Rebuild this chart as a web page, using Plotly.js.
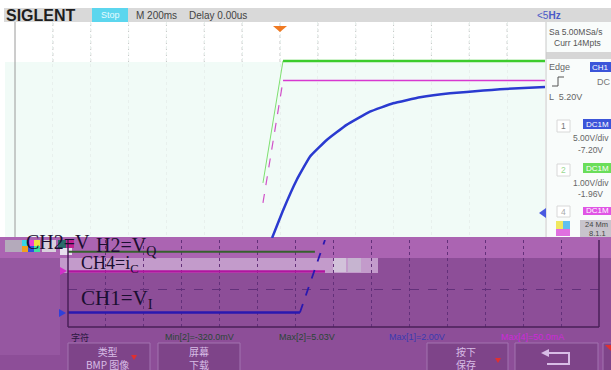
<!DOCTYPE html>
<html>
<head>
<meta charset="utf-8">
<script src="https://cdn.plot.ly/plotly-3.0.1.min.js"></script>
<style>
  html, body { margin: 0; padding: 0; background: #ffffff; }
  #scope { width: 611px; height: 370px; }
</style>
</head>
<body>
<div id="scope"></div>
<script>
// ---- Waveform data: time in ms, level in screen divisions ----
// Main display (200 ms/div, trigger at centre)
const greenRiseT = [-90, 16];
const greenRiseV = [-1.96, 2.56];
const greenFlatT = [16, 1400];
const greenFlatV = [2.56, 2.56];

const magRiseT = [-90, 16];
const magRiseV = [-2.70, 1.83];
const magFlatT = [16, 1400];
const magFlatV = [1.83, 1.83];

const blueT = [-42, 17, 88, 158, 247, 352, 475, 598, 740, 898, 1074, 1162, 1400];
const blueV = [-4.0, -2.96, -1.85, -0.99, -0.37, 0.19, 0.68, 0.99, 1.21, 1.36, 1.46, 1.51, 1.59];

// Lower capture strip
const stripGreenT = [-1400, -98];
const stripGreenV = [1.03, 1.03];
const stripMagT = [-1400, -45];
const stripMagV = [0.50, 0.50];
const stripBlueFlatT = [-1400, -177];
const stripBlueFlatV = [-0.61, -0.61];
const stripBlueRiseT = [-177, -45];
const stripBlueRiseV = [-0.61, 1.35];

// Measurement read-outs
const measLabels = ['Min[2]=-320.0mV', 'Max[2]=5.03V', 'Max[1]=2.00V', 'Max[4]=50.0mA'];
const measColors = ['#2a4636', '#2a4636', '#3a3ab0', '#cc2ad8'];
const measX = [164, 278, 388, 500];

// Soft key captions
const keyCaptions = ['类型<br>BMP 图像', '屏幕<br>下载', '按下<br>保存'];
const keyCentres = [107, 199, 466];

// ---- pixel helpers for the frame decoration ----
const W = 611, H = 370;
const px = x => x / W;
const py = y => 1 - y / H;

const shapes = [];
function rect(x0, y0, x1, y1, fill, line) {
  shapes.push({type: 'rect', xref: 'paper', yref: 'paper', layer: 'below',
    x0: px(x0), x1: px(x1), y0: py(y1), y1: py(y0), fillcolor: fill,
    line: line ? {color: line, width: 1} : {width: 0}});
}
function seg(x0, y0, x1, y1, color, width, dash) {
  shapes.push({type: 'line', xref: 'paper', yref: 'paper', layer: 'above',
    x0: px(x0), x1: px(x1), y0: py(y0), y1: py(y1),
    line: {color: color, width: width || 1, dash: dash || 'solid'}});
}
function poly(pts, fill) {
  const d = 'M' + pts.map(p => px(p[0]) + ',' + py(p[1])).join(' L') + ' Z';
  shapes.push({type: 'path', xref: 'paper', yref: 'paper', layer: 'above', path: d,
    fillcolor: fill, line: {width: 0}});
}

// header bar
rect(4, 8, 611, 22, '#d9d9d9');
rect(92, 8, 128, 22, '#5cd6ee');
// display backgrounds
rect(5, 62, 545, 237, '#f1fbf7');
rect(546, 22, 611, 237, '#f9fcfb');
rect(546, 52, 611, 59, '#d6d6d6');
seg(546, 22, 546, 237, '#c8c8c8', 1);
seg(15, 22, 15, 237, '#9a9a9a', 1);

// dotted division marks in the upper white band
for (let t = -1200; t <= 1200; t += 200) {
  shapes.push({type: 'line', xref: 'x', yref: 'paper', layer: 'below',
    x0: t, x1: t, y0: py(62), y1: py(22), line: {color: '#c6c6c6', width: 1, dash: 'dot'}});
}

// lower capture strip backgrounds
rect(0, 237, 611, 370, '#8d4e98');
rect(0, 237, 611, 258, '#ab64b2');
rect(0, 258, 60, 355, '#9657a1');
rect(60, 258, 378, 273, '#c39bcb');
rect(333, 258, 346, 272, '#d2c2da');
rect(348, 258, 361, 272, '#c6b4d0');
// colour noise at the strip's top-left
rect(5, 240, 22, 252, '#b4aabb');
rect(22, 240, 28, 246, '#36d6e8');
rect(28, 240, 34, 246, '#f040d0');
rect(34, 240, 40, 246, '#f0e040');
rect(22, 246, 28, 252, '#f0a020');
rect(28, 246, 34, 252, '#3050e0');
rect(34, 246, 40, 252, '#40e0a0');
rect(42, 240, 56, 252, '#d8d0dc');
rect(58, 240, 66, 248, '#2a6a6a');
rect(66, 240, 74, 248, '#c02090');
rect(60, 248, 72, 255, '#e8e0ee');
// right panel noise
rect(556, 221, 563, 229, '#f0e860');
rect(563, 221, 570, 229, '#60c0f0');
rect(556, 229, 570, 236, '#e070e0');
rect(580, 220, 611, 237, '#c8c4cc');

// strip frame
seg(68, 240, 68, 327, '#4a2058', 1.5);
seg(68, 327, 599, 327, '#4a2058', 1.5);
seg(599, 240, 599, 327, '#4a2058', 1.5);

// soft keys
rect(68, 343, 150, 372, '#7e4489', '#a272b0');
rect(158, 343, 240, 372, '#7e4489', '#a272b0');
rect(427, 343, 508, 372, '#7e4489', '#a272b0');
rect(515, 343, 598, 372, '#7e4489', '#a272b0');
rect(603, 343, 614, 372, '#7e4489', '#a272b0');

// trigger position marker
poly([[273, 26], [287, 26], [280, 32]], '#f07a22');
// channel markers
poly([[539, 213], [546, 208], [546, 218]], '#4a5ae0');
poly([[60, 267], [67, 271], [60, 275]], '#d030c8');
poly([[59, 309], [66, 313], [59, 317]], '#3040d8');
// return key arrow
poly([[541, 353], [549, 349], [549, 357]], '#d8bde6');
shapes.push({type: 'path', xref: 'paper', yref: 'paper', layer: 'above',
  path: 'M' + px(548) + ',' + py(353) + ' L' + px(569) + ',' + py(353) + ' L' + px(569) + ',' + py(364) + ' L' + px(547) + ',' + py(364),
  line: {color: '#d8bde6', width: 2}});
// red key indicators
poly([[131, 355], [137, 355], [134, 360]], '#e03030');
poly([[495, 358], [501, 358], [498, 363]], '#e03030');
poly([[605, 345], [611, 345], [611, 351]], '#e03030');
// trigger slope glyph
shapes.push({type: 'path', xref: 'paper', yref: 'paper', layer: 'above',
  path: 'M' + px(552) + ',' + py(86) + ' L' + px(558) + ',' + py(86) + ' L' + px(558) + ',' + py(77) + ' L' + px(564) + ',' + py(77),
  line: {color: '#555555', width: 1}});

// ---- annotations ----
const ann = [];
function txt(x, y, s, size, color, opts) {
  const o = opts || {};
  ann.push({xref: 'paper', yref: 'paper', x: px(x), y: py(y), text: s, showarrow: false,
    xanchor: o.anchor || 'left', yanchor: 'middle',
    font: {family: o.family || 'Liberation Sans, Arial, sans-serif', size: size, color: color},
    borderpad: 0});
}
txt(5, 15, '<b>SIGLENT</b>', 16, '#1e1e1e');
txt(110, 15, 'Stop', 9, '#e4fbff', {anchor: 'center'});
txt(135, 15, 'M 200ms', 10, '#444444');
txt(188, 15, 'Delay 0.00us', 10, '#444444');
txt(536, 15, '&lt;5<b>Hz</b>', 10, '#4a5ac8');

// right panel
txt(548, 32, 'Sa 5.00MSa/s', 8.5, '#555555');
txt(553, 43, 'Curr 14Mpts', 8.5, '#555555');
txt(548, 67, 'Edge', 9, '#666666');
rect(590, 62, 611, 72, '#3c55d9');
txt(600, 67, 'CH1', 8, '#ffffff', {anchor: 'center'});
txt(596, 82, 'DC', 9, '#777777');
txt(548, 97, 'L  5.20V', 9, '#666666');

rect(557, 120, 570, 132, '#ffffff', '#d8d8d8');
txt(563.5, 126, '1', 8.5, '#777777', {anchor: 'center'});
rect(583, 119, 611, 129, '#3c55d9');
txt(597, 124, 'DC1M', 8, '#ffffff', {anchor: 'center'});
txt(610, 138, '5.00V/div', 8.5, '#666666', {anchor: 'right'});
txt(604, 150, '-7.20V', 8.5, '#666666', {anchor: 'right'});

rect(557, 164, 570, 176, '#ffffff', '#d8d8d8');
txt(563.5, 170, '2', 8.5, '#9ad890', {anchor: 'center'});
rect(583, 163, 611, 173, '#6ade5a');
txt(597, 168, 'DC1M', 8, '#ffffff', {anchor: 'center'});
txt(610, 183, '1.00V/div', 8.5, '#666666', {anchor: 'right'});
txt(604, 194, '-1.96V', 8.5, '#666666', {anchor: 'right'});

rect(557, 206, 570, 217, '#ffffff', '#d8d8d8');
txt(563.5, 211.5, '4', 8.5, '#aaaaaa', {anchor: 'center'});
rect(583, 207, 611, 215, '#e055e5');
txt(597, 211, 'DC1M', 8, '#ffffff', {anchor: 'center'});
txt(584, 224, '24 Mm', 7.5, '#444444');
txt(588, 233, '8.1.1', 7.5, '#444444');

// channel captions in the capture strip
const serif = 'Liberation Serif, Times New Roman, serif';
txt(25, 242, 'CH2=V', 20, '#1a0e30', {family: serif});
txt(95, 246, 'H2=V<sub>Q</sub>', 20, '#1a0e30', {family: serif});
txt(80, 264, 'CH4=i<sub>C</sub>', 18, '#1a0e30', {family: serif});
txt(80, 299, 'CH1=V<sub>I</sub>', 21, '#1a0e30', {family: serif});

// measurement row
txt(70, 337, '字符', 9, '#2a1840', {family: 'Noto Sans CJK SC'});
measLabels.forEach((s, i) => txt(measX[i], 337, s, 9, measColors[i]));

// soft key captions (two lines each)
keyCaptions.forEach((s, i) => txt(keyCentres[i], 358, s, 10, '#d8bde6',
  {anchor: 'center', family: 'Noto Sans CJK SC'}));

// ---- traces ----
const traces = [
  {x: greenRiseT, y: greenRiseV, mode: 'lines', line: {color: '#7ee070', width: 1}},
  {x: greenFlatT, y: greenFlatV, mode: 'lines', line: {color: '#3ccc2c', width: 2.5}},
  {x: magRiseT, y: magRiseV, mode: 'lines', line: {color: '#d050c8', width: 1.2, dash: 'dash'}},
  {x: magFlatT, y: magFlatV, mode: 'lines', line: {color: '#d838d0', width: 1.5}},
  {x: blueT, y: blueV, mode: 'lines', line: {color: '#2a3ad0', width: 2.5, shape: 'spline', smoothing: 0.3}},
  {x: stripGreenT, y: stripGreenV, xaxis: 'x2', yaxis: 'y2', mode: 'lines', line: {color: '#36602e', width: 2}},
  {x: stripMagT, y: stripMagV, xaxis: 'x2', yaxis: 'y2', mode: 'lines', line: {color: '#b0169f', width: 2.5}},
  {x: stripBlueFlatT, y: stripBlueFlatV, xaxis: 'x2', yaxis: 'y2', mode: 'lines', line: {color: '#2a18b0', width: 2.5}},
  {x: stripBlueRiseT, y: stripBlueRiseV, xaxis: 'x2', yaxis: 'y2', mode: 'lines', line: {color: '#2a18b0', width: 1.8, dash: 'dash'}}
];

const layout = {
  width: W, height: H, margin: {l: 0, r: 0, t: 0, b: 0},
  paper_bgcolor: '#ffffff', plot_bgcolor: 'rgba(0,0,0,0)', showlegend: false,
  xaxis: {domain: [px(15), px(545)], range: [-1400, 1400], tick0: 0, dtick: 200,
    showgrid: true, gridcolor: '#e8f0ed', griddash: 'dot', zeroline: false,
    showticklabels: false, ticks: '', showline: false, fixedrange: true},
  yaxis: {domain: [py(238), py(22)], range: [-4, 4], showgrid: false, zeroline: false,
    showticklabels: false, ticks: '', showline: false, fixedrange: true},
  xaxis2: {domain: [px(68), px(599)], anchor: 'y2', range: [-1400, 1400], tick0: 0, dtick: 200,
    showgrid: true, gridcolor: '#63307a', griddash: 'dot', zeroline: false,
    showticklabels: false, ticks: '', showline: false, fixedrange: true},
  yaxis2: {domain: [py(327), py(240)], anchor: 'x2', range: [-1, 1.35], tickvals: [0],
    showgrid: true, gridcolor: '#63307a', griddash: 'dash', zeroline: false,
    showticklabels: false, ticks: '', showline: false, fixedrange: true},
  shapes: shapes,
  annotations: ann
};

Plotly.newPlot('scope', traces, layout, {displayModeBar: false, staticPlot: true});
</script>
</body>
</html>
